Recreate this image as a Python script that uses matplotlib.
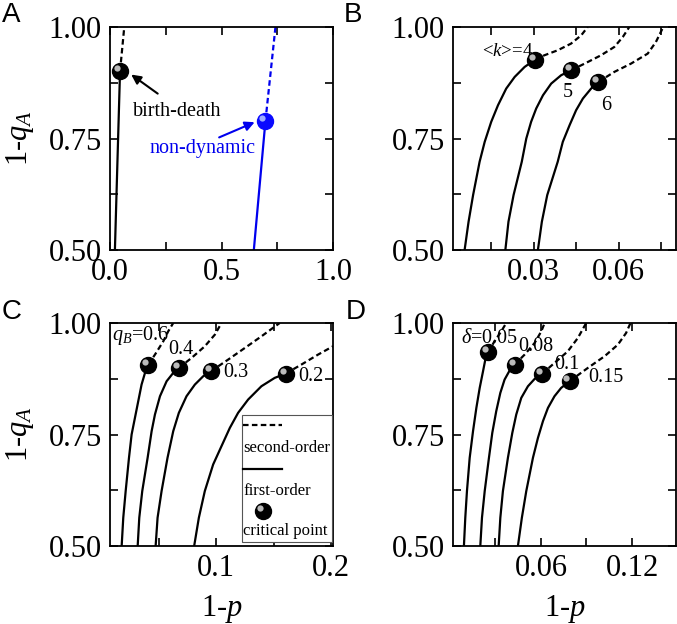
import matplotlib
matplotlib.use('Agg')
import matplotlib.pyplot as plt
from matplotlib.ticker import MultipleLocator
from matplotlib.transforms import ScaledTranslation
from matplotlib.patches import Rectangle
from matplotlib.lines import Line2D

plt.rcParams['font.family'] = ['Liberation Serif', 'DejaVu Serif']
plt.rcParams['mathtext.fontset'] = 'custom'
plt.rcParams['mathtext.rm'] = 'Liberation Serif'
plt.rcParams['mathtext.it'] = 'Liberation Serif:italic'

# ---- panel A: birth-death vs non-dynamic
bd_solid_x = [0.022, 0.045]
bd_solid_y = [0.50, 0.901]
bd_dash_x = [0.045, 0.064]
bd_dash_y = [0.901, 1.0]
nd_solid_x = [0.645, 0.697]
nd_solid_y = [0.50, 0.789]
nd_dash_x = [0.697, 0.742]
nd_dash_y = [0.789, 1.0]

# ---- panel B: mean degree <k>
k_labels = ['<$k$>=4', '5', '6']
k_solid_x = [[0.0056, 0.0070, 0.0086, 0.0109, 0.0127, 0.0150, 0.0174, 0.0203, 0.0233, 0.0268, 0.0305],
             [0.0200, 0.0211, 0.0229, 0.0258, 0.0274, 0.0291, 0.0309, 0.0333, 0.0362, 0.0397, 0.0432],
             [0.0315, 0.0329, 0.0348, 0.0385, 0.0403, 0.0427, 0.0450, 0.0474, 0.0503, 0.0529]]
k_solid_y = [[0.50, 0.5634, 0.6231, 0.6978, 0.7425, 0.7873, 0.8246, 0.8619, 0.8881, 0.9104, 0.9269],
             [0.50, 0.5634, 0.6231, 0.6978, 0.7500, 0.7873, 0.8172, 0.8470, 0.8731, 0.8918, 0.9030],
             [0.50, 0.5634, 0.6231, 0.6978, 0.7425, 0.7799, 0.8134, 0.8396, 0.8619, 0.8769]]
k_dash_x = [[0.0305, 0.0338, 0.0385, 0.0432, 0.0468, 0.0491],
            [0.0432, 0.0480, 0.0538, 0.0585, 0.0615, 0.0638],
            [0.0529, 0.0585, 0.0644, 0.0703, 0.0732, 0.0758]]
k_dash_y = [[0.9269, 0.9366, 0.9478, 0.9627, 0.9813, 1.0],
            [0.9030, 0.9179, 0.9366, 0.9552, 0.9776, 1.0],
            [0.8769, 0.8993, 0.9179, 0.9403, 0.9664, 1.0]]

# ---- panel C: q_B
qb_labels = ['$q_B$=0.6', '0.4', '0.3', '0.2']
qb_solid_x = [[0.0172, 0.0186, 0.0207, 0.0236, 0.0259, 0.0288, 0.0317, 0.0346, 0.0376, 0.0405],
              [0.0312, 0.0326, 0.0352, 0.0399, 0.0434, 0.0463, 0.0507, 0.0565, 0.0623, 0.0672],
              [0.0469, 0.0486, 0.0521, 0.0573, 0.0623, 0.0672, 0.0739, 0.0812, 0.0885, 0.0952],
              [0.0806, 0.0847, 0.0899, 0.0972, 0.1045, 0.1118, 0.1190, 0.1278, 0.1394, 0.1510, 0.1606]]
qb_solid_y = [[0.50, 0.5634, 0.6231, 0.6978, 0.7500, 0.7873, 0.8246, 0.8619, 0.8881, 0.9067],
              [0.50, 0.5634, 0.6231, 0.6978, 0.7575, 0.7948, 0.8358, 0.8694, 0.8881, 0.8993],
              [0.50, 0.5634, 0.6231, 0.6978, 0.7575, 0.7985, 0.8358, 0.8619, 0.8806, 0.8918],
              [0.50, 0.5634, 0.6231, 0.6828, 0.7239, 0.7649, 0.7985, 0.8284, 0.8582, 0.8769, 0.8866]]
qb_dash_x = [[0.0405, 0.0463, 0.0536, 0.0579, 0.0623],
             [0.0672, 0.0783, 0.0899, 0.0987, 0.1045],
             [0.0952, 0.1103, 0.1249, 0.1394, 0.1554],
             [0.1606, 0.1743, 0.1889, 0.2020]]
qb_dash_y = [[0.9067, 0.9291, 0.9590, 0.9813, 1.0],
             [0.8993, 0.9216, 0.9478, 0.9739, 1.0],
             [0.8918, 0.9179, 0.9440, 0.9701, 1.0],
             [0.8866, 0.9067, 0.9291, 0.9478]]

# ---- panel D: delta
d_labels = [r'$\delta$=0.05', '0.08', '0.1', '0.15']
d_solid_x = [[0.0092, 0.0101, 0.0112, 0.0130, 0.0152, 0.0174, 0.0196, 0.0218, 0.0233, 0.0250],
             [0.0200, 0.0211, 0.0229, 0.0257, 0.0279, 0.0305, 0.0332, 0.0360, 0.0393, 0.0426],
             [0.0321, 0.0332, 0.0349, 0.0382, 0.0411, 0.0437, 0.0470, 0.0514, 0.0558, 0.0606],
             [0.0448, 0.0474, 0.0503, 0.0547, 0.0580, 0.0613, 0.0646, 0.0689, 0.0733, 0.0788]]
d_solid_y = [[0.50, 0.5634, 0.6231, 0.6978, 0.7575, 0.8097, 0.8545, 0.8918, 0.9179, 0.9343],
             [0.50, 0.5634, 0.6231, 0.6978, 0.7537, 0.8022, 0.8433, 0.8731, 0.8933, 0.9067],
             [0.50, 0.5634, 0.6231, 0.6978, 0.7537, 0.7948, 0.8321, 0.8582, 0.8746, 0.8858],
             [0.50, 0.5634, 0.6231, 0.6978, 0.7425, 0.7799, 0.8097, 0.8358, 0.8545, 0.8694]]
d_dash_x = [[0.0250, 0.0294, 0.0338, 0.0371],
            [0.0426, 0.0492, 0.0558, 0.0602, 0.0624],
            [0.0606, 0.0689, 0.0777, 0.0843, 0.0898],
            [0.0788, 0.0909, 0.1019, 0.1107, 0.1161, 0.1190]]
d_dash_y = [[0.9343, 0.9590, 0.9813, 1.0],
            [0.9067, 0.9291, 0.9552, 0.9813, 1.0],
            [0.8858, 0.9104, 0.9366, 0.9664, 1.0],
            [0.8694, 0.8993, 0.9254, 0.9515, 0.9776, 1.0]]

fig = plt.figure(figsize=(6.77, 6.24), dpi=100)
W, H = 677, 624
DASH = (2.5, 1.5)


def make_ax(x0, y0, xlim, xmaj):
    ax = fig.add_axes([x0 / W, 1 - (y0 + 223) / H, 223 / W, 223 / H])
    ax.set_xlim(*xlim)
    ax.set_ylim(0.5, 1.0)
    ax.xaxis.set_major_locator(MultipleLocator(xmaj))
    ax.xaxis.set_minor_locator(MultipleLocator(xmaj / 2))
    ax.yaxis.set_major_locator(MultipleLocator(0.25))
    ax.yaxis.set_minor_locator(MultipleLocator(0.125))
    ax.tick_params(which='both', direction='in', top=True, right=True,
                   length=6, width=1.2, labelsize=22)
    ax.tick_params(axis='x', pad=6)
    ax.tick_params(axis='y', pad=6)
    for s in ax.spines.values():
        s.set_linewidth(1.3)
    return ax


def ball(ax, x, y, color='black', hl='#d0d0d0', trans=None):
    if trans is None:
        trans = ax.transData
    ax.plot([x], [y], 'o', ms=11.5, color=color, mec=color, zorder=8,
            transform=trans, clip_on=False)
    off = ScaledTranslation(-2.2 / 72, 2.2 / 72, fig.dpi_scale_trans)
    ax.plot([x], [y], 'o', ms=4.5, color=hl, mec='none', alpha=0.9,
            transform=trans + off, zorder=9, clip_on=False)


def curves(ax, sx, sy, dx, dy, color='black'):
    for a, b, c, d in zip(sx, sy, dx, dy):
        ax.plot(a, b, '-', color=color, lw=1.6, solid_joinstyle='round')
        ax.plot(c, d, '--', color=color, lw=1.6, dashes=DASH)
        ball(ax, a[-1], b[-1])


# A
axA = make_ax(110, 27, (0.0, 1.0), 0.5)
axA.xaxis.set_major_formatter(lambda v, p: f'{v:.1f}')
axA.yaxis.set_major_formatter(lambda v, p: f'{v:.2f}')
axA.plot(bd_solid_x, bd_solid_y, '-', color='black', lw=1.6)
axA.plot(bd_dash_x, bd_dash_y, '--', color='black', lw=1.6, dashes=DASH)
axA.plot(nd_solid_x, nd_solid_y, '-', color='#0000ee', lw=1.6)
axA.plot(nd_dash_x, nd_dash_y, '--', color='#0000ee', lw=1.6, dashes=DASH)
ball(axA, bd_solid_x[-1], bd_solid_y[-1])
ball(axA, nd_solid_x[-1], nd_solid_y[-1], color='#0a0aff', hl='#b0c0ff')
axA.annotate('', xy=(0.085, 0.897), xytext=(0.224, 0.847),
             arrowprops=dict(arrowstyle='-|>', color='black', lw=1.5, mutation_scale=14))
axA.text(0.30, 0.811, 'birth-death', fontsize=14.5, ha='center', va='center')
axA.annotate('', xy=(0.66, 0.789), xytext=(0.478, 0.75),
             arrowprops=dict(arrowstyle='-|>', color='#0000ee', lw=1.5, mutation_scale=14))
axA.text(0.415, 0.728, 'non-dynamic', fontsize=14.5, ha='center', va='center', color='#0000ee')
axA.set_ylabel('1-$q_A$', fontsize=22)
axA.yaxis.set_label_coords(-0.33, 0.5)

# B
axB = make_ax(453, 27, (0.0015, 0.0803), 0.03)
axB.xaxis.set_major_formatter(lambda v, p: f'{v:.2f}' if v > 0.001 else '')
axB.yaxis.set_major_formatter(lambda v, p: f'{v:.2f}')
curves(axB, k_solid_x, k_solid_y, k_dash_x, k_dash_y)
axB.text(0.0297, 0.944, k_labels[0], fontsize=13.5, ha='right', va='center')
axB.text(0.0403, 0.854, k_labels[1], fontsize=14.5, ha='left', va='center')
axB.text(0.0538, 0.825, k_labels[2], fontsize=14.5, ha='left', va='center')

# C
axC = make_ax(110, 323, (0.007, 0.202), 0.1)
axC.xaxis.set_major_formatter(lambda v, p: f'{v:.1f}' if v > 0.05 else '')
axC.yaxis.set_major_formatter(lambda v, p: f'{v:.2f}')
curves(axC, qb_solid_x, qb_solid_y, qb_dash_x, qb_dash_y)
axC.text(0.0087, 0.972, qb_labels[0], fontsize=14.5, ha='left', va='center')
axC.text(0.0579, 0.940, qb_labels[1], fontsize=14.5, ha='left', va='center')
axC.text(0.1060, 0.888, qb_labels[2], fontsize=14.5, ha='left', va='center')
axC.text(0.1714, 0.881, qb_labels[3], fontsize=14.5, ha='left', va='center')
axC.set_ylabel('1-$q_A$', fontsize=22)
axC.yaxis.set_label_coords(-0.33, 0.5)
axC.set_xlabel('1-$p$', fontsize=22)
axC.xaxis.set_label_coords(0.5, -0.21)

# legend box in C
t = axC.transAxes
axC.add_patch(Rectangle((0.59, 0.02), 0.405, 0.567, transform=t, fill=True,
                        facecolor='white', edgecolor='#555555', lw=0.8, zorder=7))
axC.add_line(Line2D([0.596, 0.771], [0.543, 0.543], transform=t, color='black',
                    lw=1.6, ls='--', dashes=DASH, zorder=8))
axC.text(0.597, 0.44, 'second-order', transform=t, fontsize=12, va='center', zorder=8)
axC.add_line(Line2D([0.596, 0.771], [0.345, 0.345], transform=t, color='black',
                    lw=1.6, zorder=8))
axC.text(0.597, 0.247, 'first-order', transform=t, fontsize=12, va='center', zorder=8)
ball(axC, 0.686, 0.157, trans=t)
axC.text(0.597, 0.067, 'critical point', transform=t, fontsize=12, va='center', zorder=8)

# D
axD = make_ax(453, 323, (0.002, 0.149), 0.06)
axD.xaxis.set_major_formatter(lambda v, p: f'{v:.2f}' if v > 0.001 else '')
axD.yaxis.set_major_formatter(lambda v, p: f'{v:.2f}')
curves(axD, d_solid_x, d_solid_y, d_dash_x, d_dash_y)
axD.text(0.0075, 0.966, d_labels[0], fontsize=14.5, ha='left', va='center')
axD.text(0.0448, 0.948, d_labels[1], fontsize=14.5, ha='left', va='center')
axD.text(0.0690, 0.907, d_labels[2], fontsize=14.5, ha='left', va='center')
axD.text(0.0909, 0.877, d_labels[3], fontsize=14.5, ha='left', va='center')
axD.set_xlabel('1-$p$', fontsize=22)
axD.xaxis.set_label_coords(0.5, -0.21)

# panel letters
for lab, x, y in [('A', 2, 2), ('B', 344, 2), ('C', 2, 299), ('D', 346, 299)]:
    fig.text(x / W, 1 - y / H, lab, fontsize=20, family='Liberation Sans',
             ha='left', va='top')

fig.savefig('out.png', dpi=100)
